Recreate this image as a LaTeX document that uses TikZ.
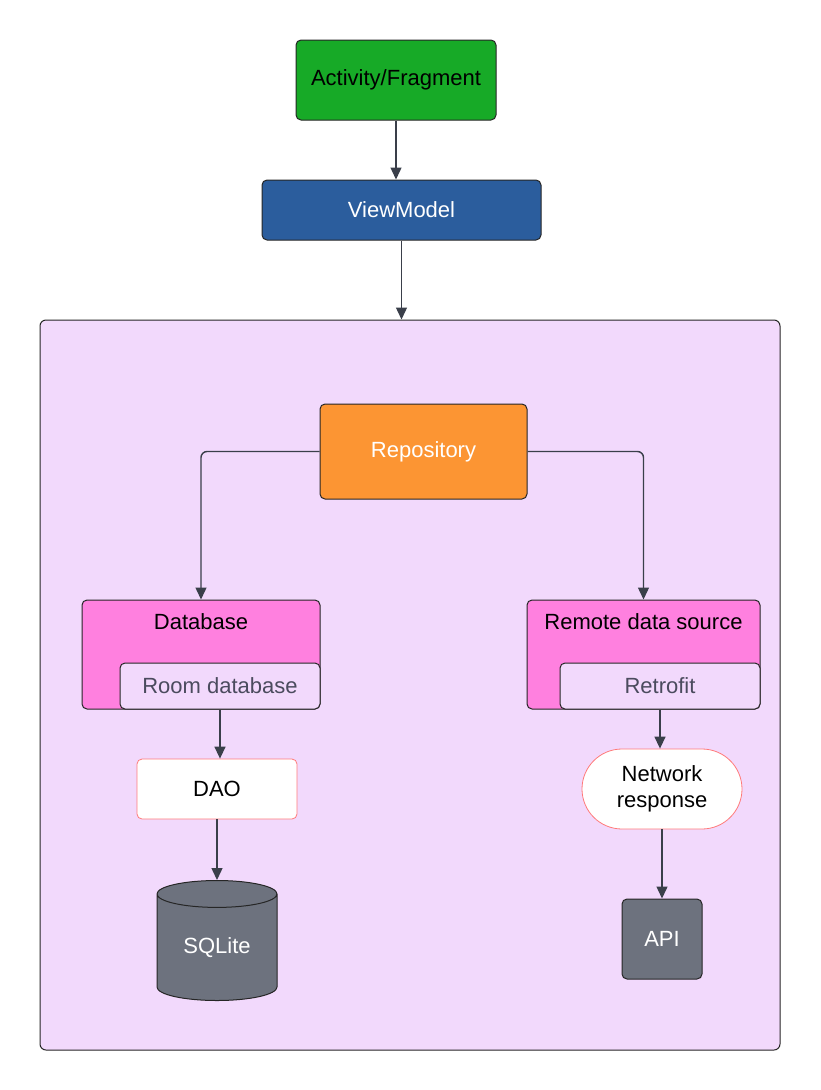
\documentclass[tikz,border=0pt]{standalone}
\usepackage{fontspec}
\setmainfont{Liberation Sans}
\usetikzlibrary{arrows.meta,shapes.geometric}
\definecolor{actgreen}{HTML}{17AA27}
\definecolor{vmblue}{HTML}{2B5D9D}
\definecolor{repoorange}{HTML}{FC9533}
\definecolor{srcpink}{HTML}{FF80DF}
\definecolor{lilac}{HTML}{F2D9FC}
\definecolor{slate}{HTML}{6D727E}
\definecolor{ink}{HTML}{3A3F4A}
\definecolor{salmon}{HTML}{FF7A7A}
\definecolor{subtext}{HTML}{4B4B5E}

\begin{document}
\begin{tikzpicture}[x=1pt,y=-1pt,
        box/.style={draw=black!85,line width=1pt,rounded corners=5pt,inner sep=0pt,
            font=\fontsize{22}{26}\selectfont,align=center},
        link/.style={draw=ink,line width=1.4pt,-{Triangle[length=12pt,width=11pt]}}]
    % canvas
    \useasboundingbox[fill=white] (0,0) rectangle (820,1090);
    % top of the stack
    \node[box,fill=actgreen,minimum width=200pt,minimum height=80pt] (act) at (396,80) {Activity/Fragment};
    \node[box,fill=vmblue,text=white,minimum width=279pt,minimum height=60pt] (vm) at (401.5,210) {ViewModel};
    % data layer
    \node[box,fill=lilac,rounded corners=6pt,minimum width=740pt,minimum height=730pt] (layer) at (410,685) {};
    \node[box,fill=repoorange,text=white,minimum width=207pt,minimum height=95pt] (repo) at (423.5,451.5) {Repository};
    % local side
    \node[box,fill=srcpink,minimum width=238pt,minimum height=109pt] (db) at (201,654.5) {};
    \node[box,draw=none,fill=none] (dbtitle) at (201,622) {Database};
    \node[box,fill=lilac,text=subtext,minimum width=200pt,minimum height=46pt] (room) at (220,686) {Room database};
    \node[box,draw=salmon,line width=0.8pt,fill=white,minimum width=160pt,minimum height=60pt] (dao) at (217,789) {DAO};
    \node[box,cylinder,sharp corners,shape border rotate=90,aspect=0.4,fill=slate,text=white,
        minimum width=120pt,minimum height=120pt,anchor=north] (sqlite) at (217,880) {SQLite};
    % remote side
    \node[box,fill=srcpink,minimum width=233pt,minimum height=109pt] (remote) at (643.5,654.5) {};
    \node[box,draw=none,fill=none] (remotetitle) at (643.5,622) {Remote data source};
    \node[box,fill=lilac,text=subtext,minimum width=200pt,minimum height=46pt] (retro) at (660,686) {Retrofit};
    \node[box,draw=salmon,line width=0.8pt,fill=white,rounded corners=40pt,
        minimum width=160pt,minimum height=80pt] (net) at (662,789) {Network\\response};
    \node[box,fill=slate,text=white,minimum width=80pt,minimum height=80pt] (api) at (662,939) {API};
    % connectors
    \draw[link] (act.south) -- (act.south |- vm.north);
    \draw[link] (vm.south) -- (vm.south |- layer.north);
    \draw[link,rounded corners=6pt] (repo.west) -| (db.north);
    \draw[link,rounded corners=6pt] (repo.east) -| (remote.north);
    \draw[link] (room.south) -- (room.south |- dao.north);
    \draw[link] (dao.south) -- (dao.south |- sqlite.north);
    \draw[link] (retro.south) -- (retro.south |- net.north);
    \draw[link] (net.south) -- (net.south |- api.north);
\end{tikzpicture}
\end{document}
